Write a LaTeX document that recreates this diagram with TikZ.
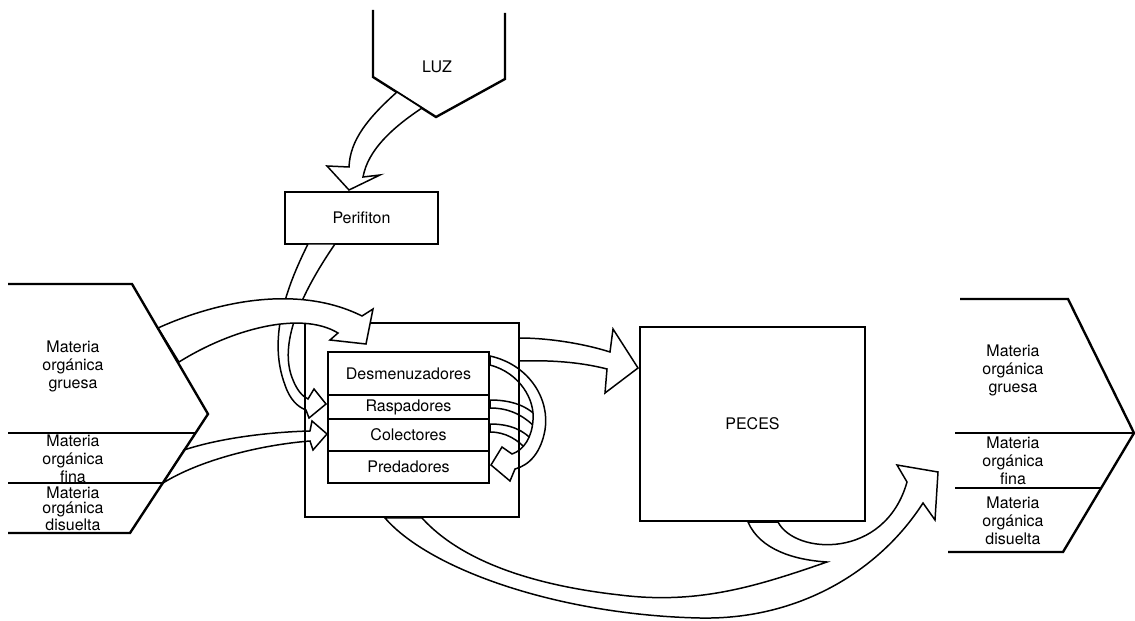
\documentclass[tikz,border=0pt]{standalone}
\usepackage{fontspec}
\setmainfont{TeX Gyre Heros}
\usetikzlibrary{positioning}
\tikzstyle{caja}=[rectangle, draw=black, line width=1.3pt, inner sep=0pt, outer sep=0pt]
\tikzstyle{fila}=[rectangle, draw=black, line width=0.9pt, fill=white, minimum width=3.22cm, inner sep=0pt, outer sep=0pt]
\tikzstyle{flecha}=[draw=black, fill=white, line width=0.85pt, line join=miter]
\tikzstyle{borde}=[draw=black, line width=1.35pt, line join=miter]
\tikzstyle{rotulo}=[align=center, inner sep=0pt]
\tikzstyle{rotuloApretado}=[align=center, inner sep=0pt, font=\fontsize{9.1}{8.6}\selectfont]

\begin{document}
\begin{tikzpicture}[x=0.02cm, y=-0.02cm, font=\fontsize{9.1}{10.2}\selectfont]
\useasboundingbox (0,0) rectangle (1135,621);

% fuente de luz
\path[borde] (373,10) -- (373,77) -- (436,117) -- (505,79) -- (505,13);
\node[rotulo](luz) at (437,67) {LUZ};

% luz -> perifiton
\path[flecha] (397,92) .. controls (368,118) and (350,140) .. (349,167)
  -- (327,166) -- (349,190) -- (380,175) -- (363,177)
  .. controls (368,150) and (392,128) .. (422,108) -- cycle;

\node[caja, fill=white, minimum width=3.06cm, minimum height=1.04cm](perifiton) at (361.5,218) {Perifiton};

% perifiton -> raspadores
\path[flecha] (308,244) .. controls (285,290) and (268,340) .. (285,385)
  .. controls (290,400) and (298,407) .. (306,410)
  -- (309,418) -- (326,404) -- (314,389) -- (308,399)
  .. controls (302,396) and (297,390) .. (293,380)
  .. controls (278,345) and (300,295) .. (335,244) -- cycle;

% fina -> colectores
\path[flecha] (184,450) .. controls (220,438) and (270,432) .. (310,431)
  -- (312,421) -- (327,434) -- (313,450) -- (310,441)
  .. controls (260,445) and (200,460) .. (163,483) -- cycle;

% grupos funcionales
\node[fila, minimum height=0.86cm](desmenuzadores) at (408.5,373.5) {Desmenuzadores};
\node[fila, minimum height=0.48cm, below=0cm of desmenuzadores](raspadores) {Raspadores};
\node[fila, minimum height=0.64cm, below=0cm of raspadores](colectores) {Colectores};
\node[fila, minimum height=0.64cm, below=0cm of colectores](predadores) {Predadores};

% raspadores y colectores -> predadores
\path[flecha] (490,400) .. controls (510,400) and (528,405) .. (540,420)
  -- (536,428) .. controls (522,414) and (508,408) .. (490,408) -- cycle;
\path[flecha] (490,424) .. controls (510,424) and (524,430) .. (534,442)
  -- (527,450) .. controls (518,440) and (506,432) .. (490,432) -- cycle;
\path[flecha] (490,356) .. controls (530,365) and (550,400) .. (545,430)
  .. controls (541,452) and (530,465) .. (515,469)
  -- (510,481) -- (491,465) -- (502,447) -- (512,454)
  .. controls (524,450) and (532,437) .. (533,420)
  .. controls (535,400) and (520,373) .. (490,365) -- cycle;

% consumidores -> peces
\path[flecha] (519,338) .. controls (550,338) and (585,344) .. (610,352)
  -- (613,329) -- (638,368) -- (605,393) -- (607,369)
  .. controls (580,362) and (550,360) .. (519,361) -- cycle;

% consumidores y peces -> salida
\path[flecha] (385,518) .. controls (430,570) and (560,615) .. (700,618)
  .. controls (800,620) and (880,570) .. (923,503)
  -- (935,520) -- (938,472) -- (897,465) -- (907,482)
  .. controls (885,560) and (795,555) .. (778,522)
  -- (748,522)
  .. controls (760,550) and (795,560) .. (827,562)
  .. controls (760,585) and (700,605) .. (620,595)
  .. controls (530,585) and (460,560) .. (422,518) -- cycle;

\node[caja, minimum width=4.28cm, minimum height=3.88cm](consumidores) at (412,420) {};

% gruesa -> consumidores
\path[flecha] (158,328) .. controls (220,300) and (300,285) .. (362,316)
  -- (373,309) -- (366,344) -- (330,340) -- (338,333)
  .. controls (300,310) and (230,330) .. (179,362) -- cycle;

\node[caja, fill=white, minimum width=4.5cm, minimum height=3.88cm](peces) at (752.5,424) {PECES};

% entrada
\path[borde] (8,284) -- (132,284) -- (208,414) -- (130,533) -- (8,533);
\path[borde, line width=0.9pt] (8,433) -- (195,433);
\path[borde, line width=0.9pt] (8,483) -- (163,483);
\node[rotulo](gruesaEntrada) at (73,366) {Materia\\orgánica\\gruesa};
\node[rotulo](finaEntrada) at (73,459) {Materia\\orgánica\\fina};
\node[rotuloApretado](disueltaEntrada) at (73,509) {Materia\\orgánica\\disuelta};

% salida
\path[borde] (960,299) -- (1068,299) -- (1134,433) -- (1063,552) -- (948,552);
\path[borde, line width=0.9pt] (955,433) -- (1134,433);
\path[borde, line width=0.9pt] (955,488) -- (1102,488);
\node[rotulo](gruesaSalida) at (1013,370) {Materia\\orgánica\\gruesa};
\node[rotulo](finaSalida) at (1013,461) {Materia\\orgánica\\fina};
\node[rotulo](disueltaSalida) at (1013,521) {Materia\\orgánica\\disuelta};

\end{tikzpicture}
\end{document}
